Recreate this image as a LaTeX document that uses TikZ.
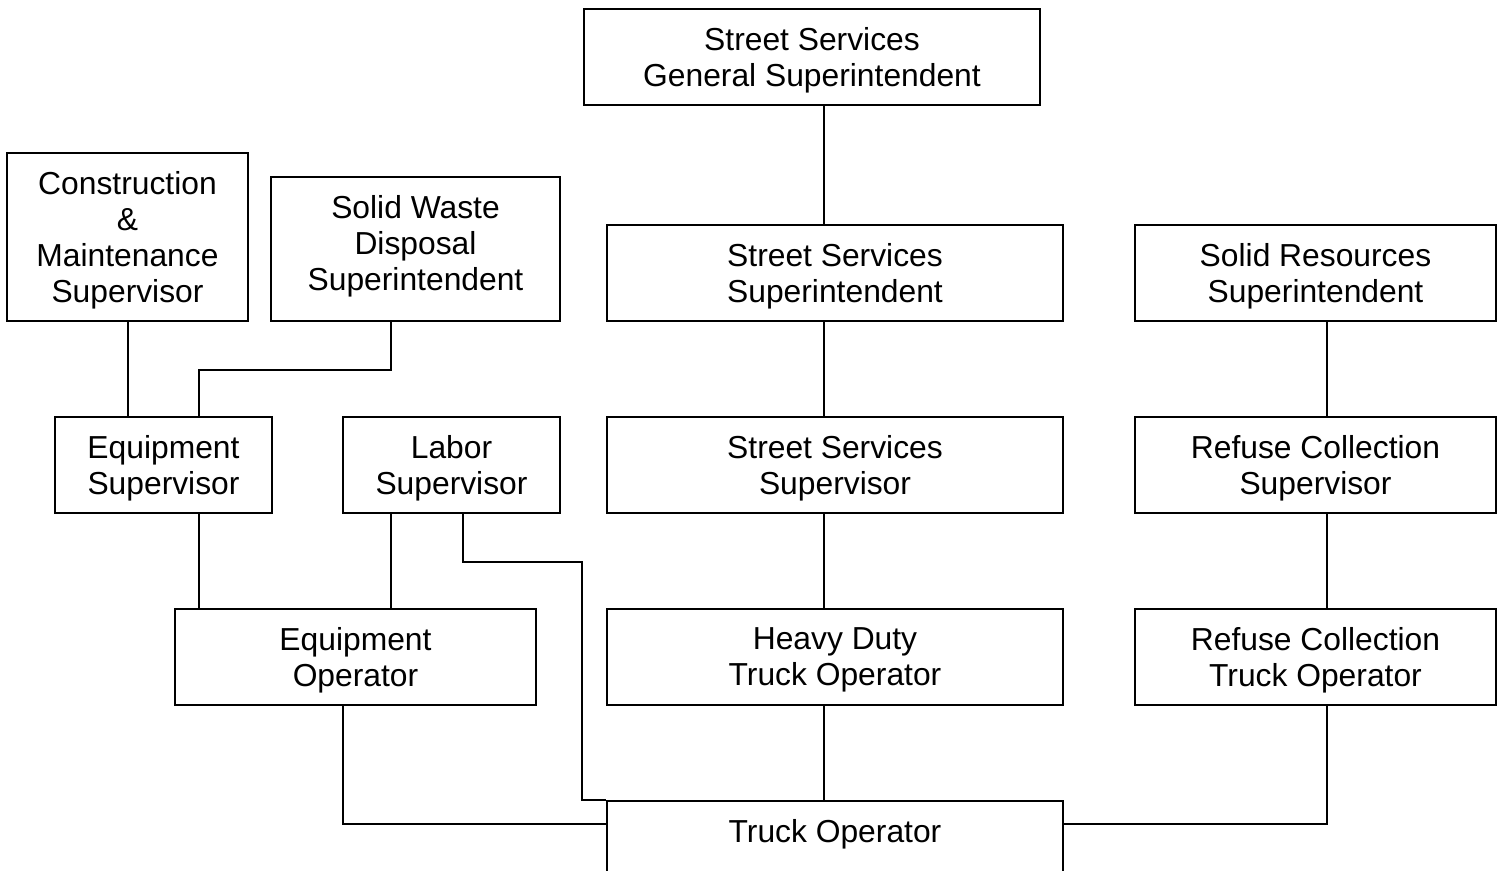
\documentclass[tikz,border=0pt]{standalone}
\usepackage{fontspec}
\setmainfont{Liberation Sans}
\usepackage{xcolor}
\usepackage{tikz}
\usetikzlibrary{positioning}

\begin{document}
\begin{tikzpicture}[
                x=0.5pt, y=-0.5pt,
                post/.style={
                    draw,
                    line width=1pt,
                    inner sep=0pt,
                    align=center,
                    text depth=0.3pt,
                    minimum height=48pt,
                    font=\fontsize{15.9pt}{18pt}\selectfont
                },
                link/.style={
                    line width=1pt
                }
            ]
                \useasboundingbox (0,0) rectangle (1504,871);

                % top
                \node[post, minimum width=228pt] (gensup) at (812,57) {Street Services\\General Superintendent};

                % second row
                \node[post, minimum width=120.5pt, minimum height=84pt] (cms) at (127.5,237) {Construction\\\&\\Maintenance\\Supervisor};
                \node[post, minimum width=144.5pt, minimum height=72pt, text depth=6.3pt] (swd) at (415.5,249) {Solid Waste\\Disposal\\Superintendent};
                \node[post, minimum width=228pt] (sss) at (835,273) {Street Services\\Superintendent};
                \node[post, minimum width=180.5pt] (srs) at (1315.5,273) {Solid Resources\\Superintendent};

                % third row
                \node[post, minimum width=108.5pt] (eqs) at (163.5,465) {Equipment\\Supervisor};
                \node[post, minimum width=108.5pt] (lab) at (451.5,465) {Labor\\Supervisor};
                \node[post, minimum width=228pt] (ssv) at (835,465) {Street Services\\Supervisor};
                \node[post, minimum width=180.5pt] (rcs) at (1315.5,465) {Refuse Collection\\Supervisor};

                % fourth row
                \node[post, minimum width=180.5pt] (eqo) at (355.5,657) {Equipment\\Operator};
                \node[post, minimum width=228pt] (hdt) at (835,657) {Heavy Duty\\Truck Operator};
                \node[post, minimum width=180.5pt] (rct) at (1315.5,657) {Refuse Collection\\Truck Operator};

                % bottom
                \node[post, minimum width=228pt] (trk) at (835,849) {Truck Operator\\\mbox{}};

                % street services line
                \draw[link] ([xshift=6pt]gensup.south) -- ([xshift=6pt]gensup.south |- sss.north);
                \draw[link] ([xshift=-5.5pt]sss.south) -- ([xshift=-5.5pt]ssv.north);
                \draw[link] ([xshift=-5.5pt]ssv.south) -- ([xshift=-5.5pt]hdt.north);
                \draw[link] ([xshift=-5.5pt]hdt.south) -- ([xshift=-5.5pt]trk.north);

                % solid resources line
                \draw[link] ([xshift=5.75pt]srs.south) -- ([xshift=5.75pt]rcs.north);
                \draw[link] ([xshift=5.75pt]rcs.south) -- ([xshift=5.75pt]rct.north);
                \draw[link] ([xshift=5.75pt]rct.south) |- ([yshift=-12pt]trk.north east);

                % left side
                \draw[link] (cms.south) -- (cms.south |- eqs.north);
                \draw[link] ([xshift=-12.25pt]swd.south) -- ++(0pt,-24pt) -| ([xshift=17.75pt]eqs.north);
                \draw[link] ([xshift=17.75pt]eqs.south) -- ([xshift=17.75pt]eqs.south |- eqo.north);
                \draw[link] ([xshift=-30.25pt]lab.south) -- ([xshift=-30.25pt]lab.south |- eqo.north);
                \draw[link] ([xshift=5.75pt]lab.south) -- ++(0pt,-24pt) -| ([xshift=-12pt]trk.north west) -- (trk.north west);
                \draw[link] ([xshift=-6.25pt]eqo.south) |- ([yshift=-12pt]trk.north west);

\end{tikzpicture}
\end{document}
